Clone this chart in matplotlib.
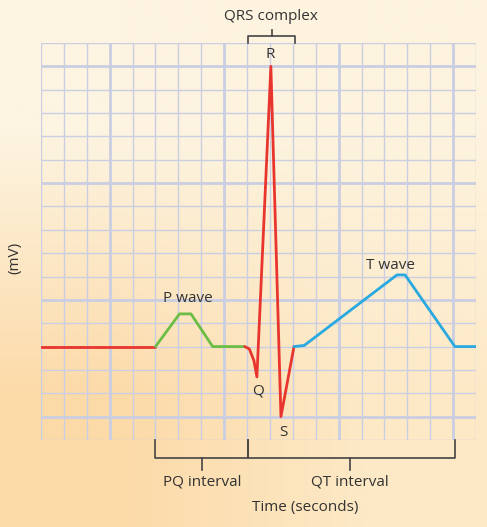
import numpy as np
import matplotlib.pyplot as plt

# ECG trace in grid squares (x: time, y: mV)
base_x = [0, 5]
base_y = [4, 4]
p_wave_x = [5, 6.05, 6.55, 7.5, 8.9]
p_wave_y = [4, 5.4, 5.4, 4, 4]
qrs_x = [8.9, 9.1, 9.3, 9.43, 10.04, 10.48, 11.05]
qrs_y = [4, 3.9, 3.4, 2.7, 16.0, 1.0, 4]
t_wave_x = [11.05, 11.5, 15.55, 15.9, 18.08, 19]
t_wave_y = [4, 4.05, 7.07, 7.07, 4, 4]

n_cols, n_rows = 19, 17
major_x = [3, 8, 13, 18]
major_y = [1, 6, 11, 16]

text_col = '#333333'
grid_col = '#cacee2'
plt.rcParams['font.family'] = ['Open Sans', 'DejaVu Sans']

fig = plt.figure(figsize=(4.87, 5.27), dpi=100)

# background gradient
bg = fig.add_axes([0, 0, 1, 1])
corners = np.array([[[252, 218, 168], [253, 233, 198]],
                    [[253, 244, 225], [253, 243, 222]]]) / 255.0
bg.imshow(corners, extent=[0, 1, 0, 1], origin='lower', interpolation='bilinear', aspect='auto')
bg.set_axis_off()

ax = fig.add_axes([41 / 487, 87 / 527, 435 / 487, 397 / 527])
ax.set_xlim(0, n_cols)
ax.set_ylim(0, n_rows)
ax.patch.set_alpha(0)
for s in ax.spines.values():
    s.set_visible(False)
ax.set_xticks([])
ax.set_yticks([])

for i in range(n_cols + 1):
    lw = 2.0 if i in major_x else 1.0
    ax.axvline(i, color=grid_col, lw=lw, zorder=1)
for j in range(n_rows + 1):
    lw = 2.0 if j in major_y else 1.0
    ax.axhline(j, color=grid_col, lw=lw, zorder=1)

kw = dict(lw=2.0, solid_joinstyle='round', solid_capstyle='round', zorder=3)
ax.plot(base_x, base_y, color='#e8362e', **kw)
ax.plot(p_wave_x, p_wave_y, color='#6cbd45', **kw)
ax.plot(qrs_x, qrs_y, color='#e8362e', **kw)
ax.plot(t_wave_x, t_wave_y, color='#2aa9e0', **kw)

# brackets
bk = dict(color='#444444', lw=1.2, clip_on=False, zorder=4)
ax.plot([9.05, 9.05, 11.1, 11.1], [17, 17.3, 17.3, 17], **bk)
ax.plot([10.07, 10.07], [17.3, 17.56], **bk)
ax.plot([5, 5, 9.05, 9.05], [0, -0.77, -0.77, 0], **bk)
ax.plot([7.03, 7.03], [-0.77, -1.28], **bk)
ax.plot([9.05, 9.05, 18.08, 18.08], [0, -0.77, -0.77, 0], **bk)
ax.plot([13.5, 13.5], [-0.77, -1.28], **bk)

tk = dict(color=text_col, fontsize=11, fontweight='medium', ha='center', va='center', clip_on=False)
ax.text(10.04, 18.12, 'QRS complex', **tk)
ax.text(10.0, 16.49, 'R', **tk)
ax.text(6.42, 6.08, 'P wave', **tk)
ax.text(15.28, 7.49, 'T wave', **tk)
ax.text(9.48, 2.1, 'Q', **tk)
ax.text(10.61, 0.34, 'S', **tk)
ax.text(7.03, -1.8, 'PQ interval', **tk)
ax.text(13.5, -1.8, 'QT interval', **tk)
ax.text(11.53, -2.87, 'Time (seconds)', **tk)
ax.text(-1.14, 7.8, '(mV)', rotation=90, **tk)

fig.savefig('out.png', dpi=100)
